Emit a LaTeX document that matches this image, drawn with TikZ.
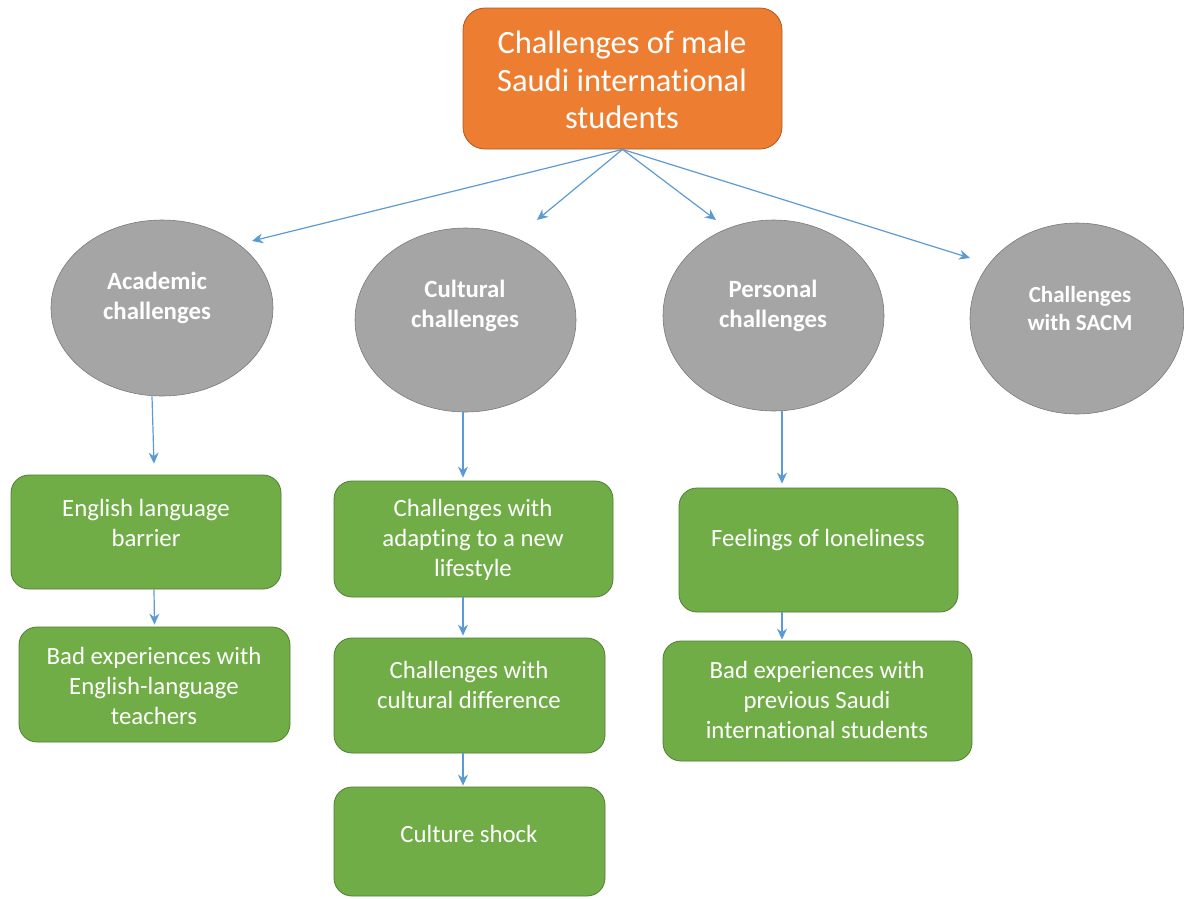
\documentclass[tikz,border=0pt]{standalone}
\usepackage{fontspec}
\setmainfont{Carlito}[Ligatures=NoCommon]
\usetikzlibrary{shapes.geometric,arrows.meta,calc}
\definecolor{orng}{HTML}{ED7D31}
\definecolor{orngb}{HTML}{AE5A21}
\definecolor{grn}{HTML}{70AD47}
\definecolor{grnb}{HTML}{507E32}
\definecolor{gry}{HTML}{A5A5A5}
\definecolor{gryb}{HTML}{7A7A7A}
\definecolor{blu}{HTML}{5B9BD5}
\begin{document}
\begin{tikzpicture}[x=1pt,y=-1pt,
  topbox/.style={draw=orngb, fill=orng, rounded corners=22pt, line width=0.8pt, inner sep=0pt},
  circ/.style={ellipse, draw=gryb, fill=gry, line width=0.6pt, inner sep=0pt},
  gbox/.style={draw=grnb, fill=grn, rounded corners=18pt, line width=0.8pt, inner sep=0pt},
  ttext/.style={text=white, align=center, inner sep=0pt, font=\fontsize{32.5}{37.5}\selectfont},
  etext/.style={text=white, align=center, inner sep=0pt, font=\fontsize{24.8}{30}\selectfont\bfseries},
  stext/.style={text=white, align=center, inner sep=0pt, font=\fontsize{23}{28}\selectfont\bfseries},
  gtext/.style={text=white, align=center, inner sep=0pt, font=\fontsize{24.8}{30}\selectfont},
  arr/.style={draw=blu, line width=1.2pt, -{Stealth[length=11pt,width=10pt]}}]
\useasboundingbox (0,0) rectangle (1184,898);

% top
\node[topbox, minimum width=319pt, minimum height=141pt] (top) at (622.5,78.5) {};
\node[ttext] (toptxt) at (622,80) {Challenges of male\\Saudi international\\students};

% ellipses
\node[circ, minimum width=222pt, minimum height=176pt] (acad) at (162,308) {};
\node[etext] (acadtxt) at (157,298) {Academic\\challenges};
\node[circ, minimum width=221pt, minimum height=184pt] (cult) at (465.5,320) {};
\node[etext] (culttxt) at (465,306) {Cultural\\challenges};
\node[circ, minimum width=221pt, minimum height=191pt] (pers) at (773.5,315.5) {};
\node[etext] (perstxt) at (773,306) {Personal\\challenges};
\node[circ, minimum width=214pt, minimum height=191pt] (sacm) at (1077,318.5) {};
\node[stext] (sacmtxt) at (1080,309) {Challenges\\with SACM};

% green boxes
\node[gbox, minimum width=270pt, minimum height=114pt] (eng) at (146,532) {};
\node[gtext] (engtxt) at (146,523) {English language\\barrier};
\node[gbox, minimum width=271pt, minimum height=115pt] (badeng) at (154.5,684.5) {};
\node[gtext] (badengtxt) at (154,686) {Bad experiences with\\English-language\\teachers};
\node[gbox, minimum width=279pt, minimum height=116pt] (adapt) at (473.5,539) {};
\node[gtext] (adapttxt) at (473,540) {Challenges with\\adapting to a new\\lifestyle};
\node[gbox, minimum width=271pt, minimum height=115pt] (cdiff) at (469.5,695.5) {};
\node[gtext] (cdifftxt) at (469,685) {Challenges with\\cultural difference};
\node[gbox, minimum width=271pt, minimum height=109pt] (shock) at (469.5,841.5) {};
\node[gtext] (shocktxt) at (469,834) {Culture shock};
\node[gbox, minimum width=279pt, minimum height=124pt] (lonely) at (818.5,550) {};
\node[gtext] (lonelytxt) at (818,540) {Feelings of loneliness};
\node[gbox, minimum width=309pt, minimum height=120pt] (badprev) at (817.5,701) {};
\node[gtext] (badprevtxt) at (817,700) {Bad experiences with\\previous Saudi\\international students};

% arrow tips near the ellipses
\coordinate (tA) at (252,241);
\coordinate (tC) at (537,220);
\coordinate (tP) at (716,220);
\coordinate (tS) at (970,258);

\draw[arr] (top.south) -- (tA);
\draw[arr] (top.south) -- (tC);
\draw[arr] (top.south) -- (tP);
\draw[arr] (top.south) -- (tS);

\draw[arr] ($(acad.south)+(-10,0)$) -- ($(eng.north)+(8,-11)$);
\draw[arr] ($(cult.south)+(-2.5,0)$) -- ($(adapt.north)+(-10.5,-3)$);
\draw[arr] ($(pers.south)+(8.5,0)$) -- ($(lonely.north)+(-36.5,-4)$);
\draw[arr] ($(eng.south)+(8,0)$) -- ($(badeng.north)+(0,-2)$);
\draw[arr] ($(adapt.south)+(-10.5,0)$) -- ($(cdiff.north)+(-6.5,-2)$);
\draw[arr] ($(cdiff.south)+(-6.5,0)$) -- ($(shock.north)+(-6.5,-1)$);
\draw[arr] ($(lonely.south)+(-36.5,0)$) -- ($(badprev.north)+(-35.5,-1)$);
\end{tikzpicture}
\end{document}
